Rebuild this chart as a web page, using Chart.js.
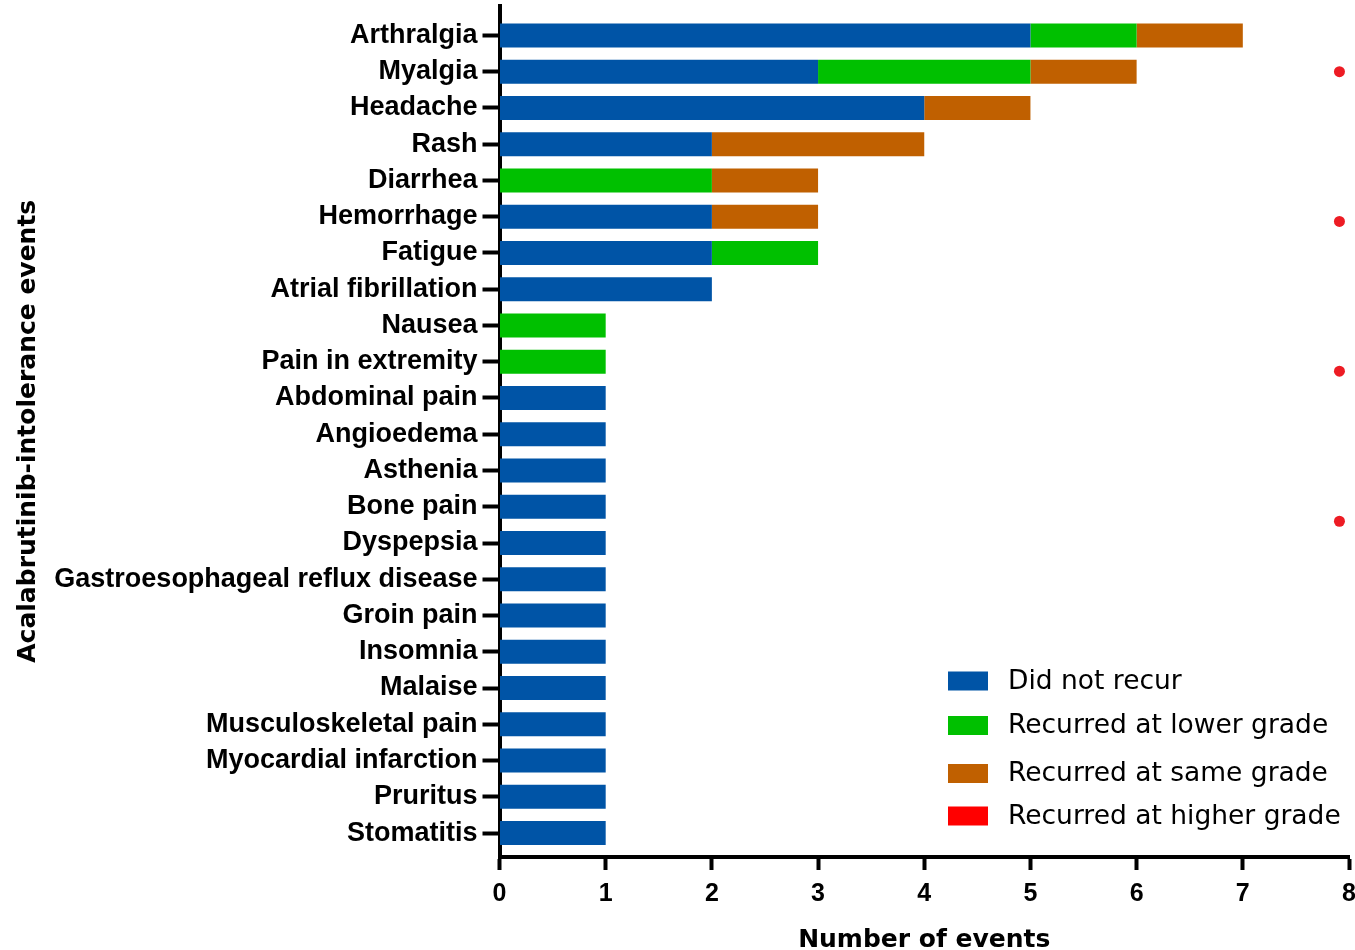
<!DOCTYPE html>
<html>
<head>
<meta charset="utf-8">
<script src="https://cdn.jsdelivr.net/npm/chart.js@4"></script>
<style>
  body { margin: 0; background: #fff; }
  #wrap { width: 1355px; height: 950px; }
</style>
</head>
<body>
<div id="wrap"><canvas id="myChart"></canvas></div>
<script>
var categories = [
  'Arthralgia', 'Myalgia', 'Headache', 'Rash', 'Diarrhea', 'Hemorrhage',
  'Fatigue', 'Atrial fibrillation', 'Nausea', 'Pain in extremity',
  'Abdominal pain', 'Angioedema', 'Asthenia', 'Bone pain', 'Dyspepsia',
  'Gastroesophageal reflux disease', 'Groin pain', 'Insomnia', 'Malaise',
  'Musculoskeletal pain', 'Myocardial infarction', 'Pruritus', 'Stomatitis'
];
var didNotRecur  = [5, 3, 4, 2, 0, 2, 2, 2, 0, 0, 1, 1, 1, 1, 1, 1, 1, 1, 1, 1, 1, 1, 1];
var lowerGrade   = [1, 2, 0, 0, 2, 0, 1, 0, 1, 1, 0, 0, 0, 0, 0, 0, 0, 0, 0, 0, 0, 0, 0];
var sameGrade    = [1, 1, 1, 2, 1, 1, 0, 0, 0, 0, 0, 0, 0, 0, 0, 0, 0, 0, 0, 0, 0, 0, 0];
var higherGrade  = [0, 0, 0, 0, 0, 0, 0, 0, 0, 0, 0, 0, 0, 0, 0, 0, 0, 0, 0, 0, 0, 0, 0];
var xTicks = [0, 1, 2, 3, 4, 5, 6, 7, 8];
// stray red marks at the right edge (x value, row position)
var dotX = [7.91, 7.91, 7.91, 7.91];
var dotRow = [1, 5.13, 9.26, 13.4];

function rows(values) {
  return values.map(function (v, i) { return { x: v, y: i }; });
}

var legendRows = [681, 725.5, 773.5, 816];
var insideLegend = {
  id: 'insideLegend',
  afterDraw: function (chart) {
    var c = chart.ctx;
    c.save();
    c.font = '26.5px "DejaVu Sans"';
    c.textBaseline = 'middle';
    var n = 0;
    chart.data.datasets.forEach(function (ds) {
      if (ds.type === 'scatter') return;
      var y = legendRows[n++];
      c.fillStyle = ds.backgroundColor;
      c.fillRect(948, y - 9.5, 40, 19);
      c.fillStyle = '#000';
      c.fillText(ds.label, 1008, y + 1);
    });
    c.restore();
  }
};

var ctx = document.getElementById('myChart').getContext('2d');
var myChart = new Chart(ctx, {
  type: 'bar',
  data: {
    datasets: [
      { label: 'Did not recur', data: rows(didNotRecur), backgroundColor: '#0054A6' },
      { label: 'Recurred at lower grade', data: rows(lowerGrade), backgroundColor: '#00C000' },
      { label: 'Recurred at same grade', data: rows(sameGrade), backgroundColor: '#C06000' },
      { label: 'Recurred at higher grade', data: rows(higherGrade), backgroundColor: '#FF0000' },
      {
        type: 'scatter',
        label: 'marks',
        data: dotX.map(function (x, i) { return { x: x, y: dotRow[i] }; }),
        backgroundColor: '#ED1C24',
        borderWidth: 0,
        pointRadius: 5.5
      }
    ]
  },
  options: {
    indexAxis: 'y',
    responsive: true,
    maintainAspectRatio: false,
    animation: false,
    layout: { padding: { top: 3, right: 6, left: 0, bottom: 0 } },
    datasets: {
      bar: { grouped: false, categoryPercentage: 1, barPercentage: 0.66 }
    },
    plugins: {
      legend: { display: false },
      tooltip: { enabled: false }
    },
    scales: {
      x: {
        type: 'linear',
        stacked: true,
        min: 0,
        max: 8,
        z: 1,
        afterFit: function (s) { s.height = 93; s.paddingRight = 0; s.paddingLeft = 0; },
        afterBuildTicks: function (s) { s.ticks = xTicks.map(function (v) { return { value: v }; }); },
        border: { display: true, color: '#000', width: 4 },
        grid: { drawOnChartArea: false, drawTicks: true, tickLength: 13, tickWidth: 4, tickColor: '#000' },
        ticks: {
          color: '#000',
          padding: 9,
          font: { family: '"Liberation Sans", Arial', size: 25, weight: 'bold' }
        },
        title: {
          display: true,
          text: 'Number of events',
          color: '#000',
          padding: 0,
          font: { family: '"DejaVu Sans"', size: 25, weight: 'bold', lineHeight: 0.8 }
        }
      },
      y: {
        type: 'linear',
        reverse: true,
        offset: false,
        min: -0.825,
        max: 22.66,
        z: 1,
        afterFit: function (s) { s.width = 499.5; s.paddingTop = 0; s.paddingBottom = 0; },
        afterBuildTicks: function (s) { s.ticks = categories.map(function (c, i) { return { value: i }; }); },
        border: { display: true, color: '#000', width: 4 },
        grid: { offset: false, drawOnChartArea: false, drawTicks: true, tickLength: 17, tickWidth: 4, tickColor: '#000' },
        ticks: {
          color: '#000',
          padding: 5,
          autoSkip: false,
          callback: function (v) { return categories[v]; },
          font: { family: '"Liberation Sans", Arial', size: 27, weight: 'bold' }
        },
        title: {
          display: true,
          text: 'Acalabrutinib-intolerance events',
          color: '#000',
          padding: { top: 15.5, bottom: 0 },
          font: { family: '"DejaVu Sans"', size: 25, weight: 'bold', lineHeight: 1.04 }
        }
      }
    }
  },
  plugins: [insideLegend]
});
</script>
</body>
</html>
